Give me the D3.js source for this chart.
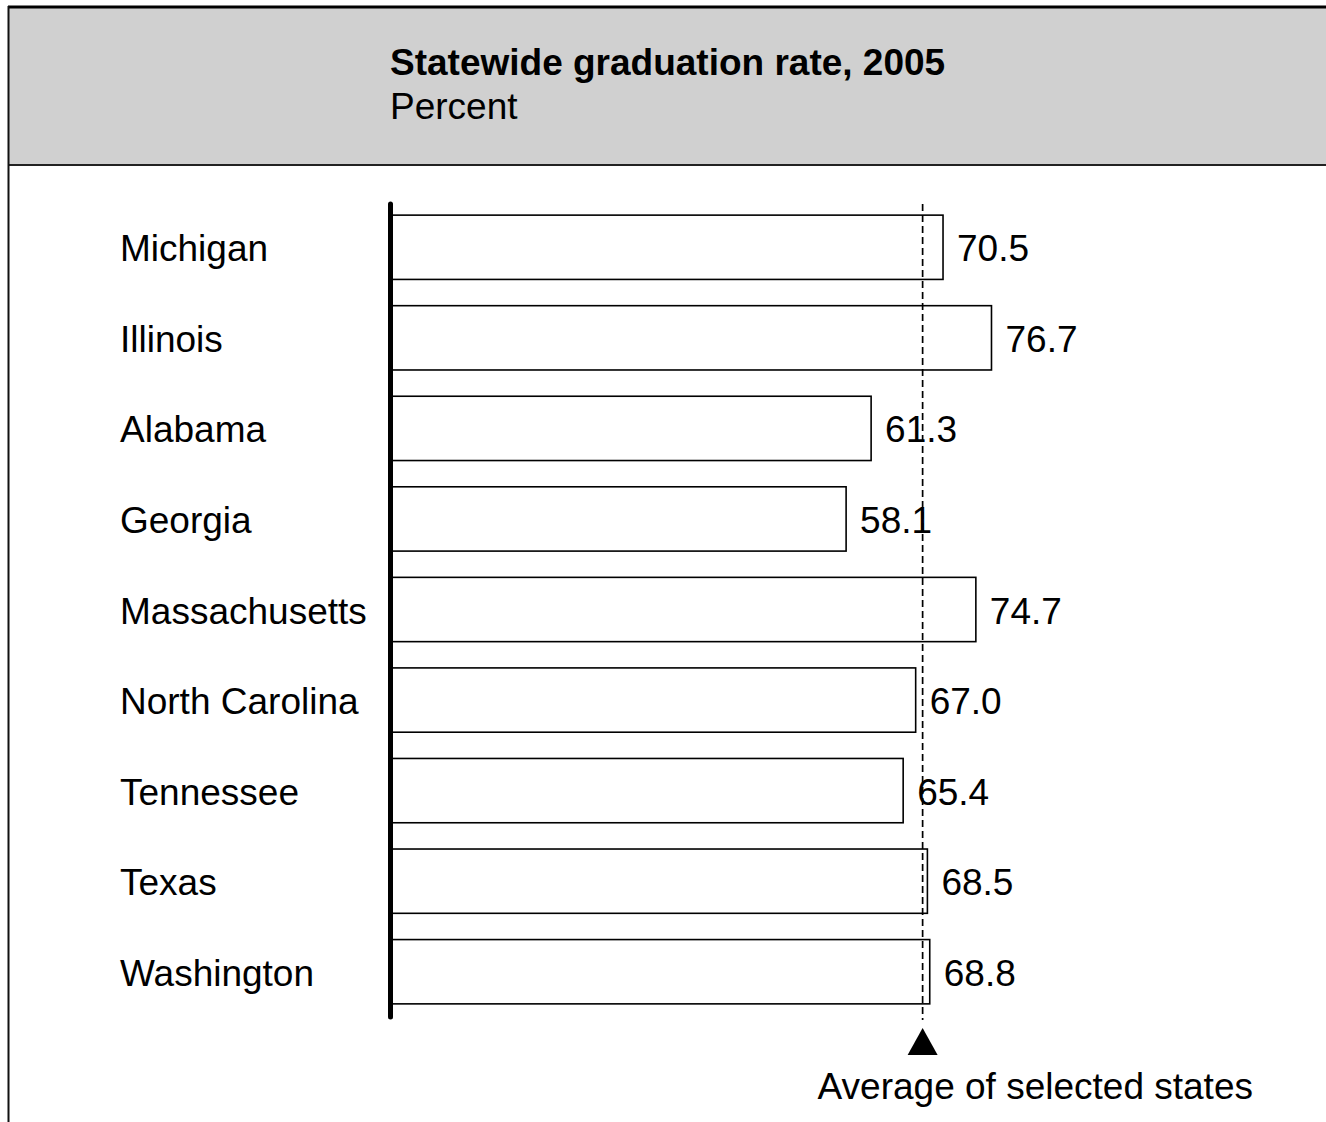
<!DOCTYPE html>
<html>
<head>
<meta charset="utf-8">
<script src="https://cdn.jsdelivr.net/npm/d3@7"></script>
<style>
  html, body { margin: 0; padding: 0; background: #fff; }
  svg { display: block; }
  text { font-family: "Liberation Sans", Arial, Helvetica, sans-serif; fill: #000; }
</style>
</head>
<body>
<svg id="chart" width="1326" height="1122"></svg>
<script>
// Statewide graduation rate, 2005 (percent)
const states = ["Michigan", "Illinois", "Alabama", "Georgia", "Massachusetts",
                "North Carolina", "Tennessee", "Texas", "Washington"];
const rates = [70.5, 76.7, 61.3, 58.1, 74.7, 67.0, 65.4, 68.5, 68.8];
const titleText = "Statewide graduation rate, 2005";
const unitText = "Percent";
const averageLabel = "Average of selected states";

const W = 1326, H = 1122;
const FS = 37;
const svg = d3.select("#chart");

// Header panel
svg.append("rect")
  .attr("x", 8).attr("y", 7).attr("width", W + 10).attr("height", 158)
  .attr("fill", "#d0d0d0");
svg.append("line")
  .attr("x1", 8).attr("x2", W + 10).attr("y1", 7).attr("y2", 7)
  .attr("stroke", "#000").attr("stroke-width", 3);
svg.append("line")
  .attr("x1", 8).attr("x2", W + 10).attr("y1", 165).attr("y2", 165)
  .attr("stroke", "#222").attr("stroke-width", 2);
svg.append("line")
  .attr("x1", 8.5).attr("x2", 8.5).attr("y1", 6).attr("y2", H + 5)
  .attr("stroke", "#111").attr("stroke-width", 2);

svg.append("text")
  .attr("x", 390).attr("y", 75)
  .attr("font-size", FS).attr("font-weight", "bold")
  .text(titleText);
svg.append("text")
  .attr("x", 390).attr("y", 119)
  .attr("font-size", FS)
  .text(unitText);

// Scales
const x = d3.scaleLinear().domain([0, 100]).range([392, 392 + 781.6]);
const y = d3.scaleBand().domain(states).range([202, 1017])
  .paddingInner(0.29).paddingOuter(0.145);

const data = states.map((s, i) => ({ state: s, value: rates[i] }));
const avg = d3.mean(rates);

// Bars
const g = svg.append("g");
g.selectAll("rect.bar").data(data).join("rect")
  .attr("class", "bar")
  .attr("x", x(0))
  .attr("y", d => y(d.state))
  .attr("width", d => x(d.value) - x(0))
  .attr("height", y.bandwidth())
  .attr("fill", "#fff")
  .attr("stroke", "#000")
  .attr("stroke-width", 1.6);

// State labels
g.selectAll("text.state").data(data).join("text")
  .attr("class", "state")
  .attr("x", 120)
  .attr("y", d => y(d.state) + y.bandwidth() / 2 + 14)
  .attr("font-size", FS)
  .text(d => d.state);

// Value labels
g.selectAll("text.value").data(data).join("text")
  .attr("class", "value")
  .attr("x", d => x(d.value) + 14)
  .attr("y", d => y(d.state) + y.bandwidth() / 2 + 14)
  .attr("font-size", FS)
  .text(d => d3.format(".1f")(d.value));

// Average reference line
svg.append("line")
  .attr("x1", x(avg)).attr("x2", x(avg))
  .attr("y1", 204).attr("y2", 1020)
  .attr("stroke", "#000").attr("stroke-width", 1.7)
  .attr("stroke-dasharray", "7,4");

svg.append("path")
  .attr("d", d3.line()([[x(avg), 1028], [x(avg) + 15, 1055], [x(avg) - 15, 1055]]) + "Z")
  .attr("fill", "#000");

svg.append("text")
  .attr("x", x(avg) - 105).attr("y", 1099)
  .attr("font-size", FS)
  .text(averageLabel);

// Category axis line
svg.append("line")
  .attr("x1", 390.5).attr("x2", 390.5)
  .attr("y1", 204).attr("y2", 1017)
  .attr("stroke", "#000").attr("stroke-width", 5)
  .attr("stroke-linecap", "round");
</script>
</body>
</html>
